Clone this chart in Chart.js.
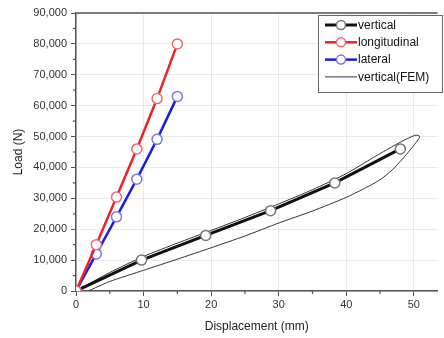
<!DOCTYPE html>
<html>
<head>
<meta charset="utf-8">
<script src="https://cdn.jsdelivr.net/npm/chart.js@4.4.0/dist/chart.umd.min.js"></script>
<style>
  html, body { margin: 0; padding: 0; background: #fff; }
  #wrap { width: 444px; height: 338px; }
</style>
</head>
<body>
<div id="wrap"><canvas id="loadChart"></canvas></div>
<script>
// measured curves: displacement (mm) / load (N)
const verticalX = [0, 9.7, 19.2, 28.8, 38.3, 48];
const verticalY = [0, 10000, 18000, 26000, 35000, 46000];

const longX = [0, 3, 6, 9, 12, 15];
const longY = [0, 15000, 30400, 46000, 62300, 80000];

const latX = [0, 3, 6, 9, 12, 15];
const latY = [0, 12000, 24000, 36200, 49100, 63000];

// FEM loop: loading branch up to the tip, then unloading branch back down
const femX = [0, 5, 10, 15, 20, 25, 30, 35, 40, 44, 47, 49, 50.3,
              50.9, 50.3, 49.4, 48.3, 46.8, 45, 42.5, 40, 35, 30, 25, 20, 15, 10, 5, 1.8];
const femY = [0, 6000, 11200, 15500, 19600, 23800, 28200, 32800, 38000, 43200, 47000, 49300, 50450,
              50000, 48000, 45500, 42700, 39200, 36000, 33000, 30300, 25900, 22000, 17800, 14000, 10300, 6700, 3100, 0];

const xTicks = [0, 10, 20, 30, 40, 50];
const yTicks = [0, 10000, 20000, 30000, 40000, 50000, 60000, 70000, 80000, 90000];

const legendNames = ['vertical', 'longitudinal', 'lateral', 'vertical(FEM)'];

const pts = (xs, ys) => xs.map((x, i) => ({ x: x, y: ys[i] }));

const FONT = '"Liberation Sans", Arial, sans-serif';

// minor ticks, top frame and the boxed legend
const framePlugin = {
    id: 'frame',
    afterDraw(chart) {
        const ctx = chart.ctx;
        const a = chart.chartArea;
        const xs = chart.scales.x, ys = chart.scales.y;
        ctx.save();
        ctx.strokeStyle = '#555';
        ctx.lineWidth = 1.5;
        ctx.beginPath();
        ctx.moveTo(a.left, a.top);
        ctx.lineTo(a.right, a.top);
        ctx.stroke();

        ctx.lineWidth = 1.2;
        ctx.beginPath();
        for (let v = 5; v < xs.max; v += 10) {
            const px = xs.getPixelForValue(v);
            ctx.moveTo(px, a.bottom);
            ctx.lineTo(px, a.bottom + 3);
        }
        for (let v = 5000; v < ys.max; v += 10000) {
            const py = ys.getPixelForValue(v);
            ctx.moveTo(a.left, py);
            ctx.lineTo(a.left - 3, py);
        }
        ctx.stroke();

        // legend
        const bx = 318, by = 15, bw = 124, bh = 77;
        ctx.fillStyle = '#fff';
        ctx.fillRect(bx, by, bw, bh);
        ctx.strokeStyle = '#666';
        ctx.lineWidth = 1;
        ctx.strokeRect(bx + 0.5, by + 0.5, bw, bh);
        chart.data.datasets.forEach((ds, i) => {
            const y = by + 10 + i * 17.3;
            ctx.strokeStyle = ds.borderColor;
            ctx.lineWidth = ds.borderWidth;
            ctx.beginPath();
            ctx.moveTo(325, y);
            ctx.lineTo(357, y);
            ctx.stroke();
            if (ds.pointRadius > 0) {
                ctx.fillStyle = '#fff';
                ctx.strokeStyle = ds.pointBorderColor;
                ctx.lineWidth = 1.5;
                ctx.beginPath();
                ctx.arc(341, y, 4.5, 0, Math.PI * 2);
                ctx.fill();
                ctx.stroke();
            }
            ctx.fillStyle = '#111';
            ctx.font = '12px ' + FONT;
            ctx.textBaseline = 'middle';
            ctx.textAlign = 'left';
            ctx.fillText(legendNames[i], 358, y + 0.5);
        });
        ctx.restore();
    }
};

const ctx = document.getElementById('loadChart').getContext('2d');
new Chart(ctx, {
    type: 'scatter',
    data: {
        datasets: [{
            label: legendNames[0],
            data: pts(verticalX, verticalY),
            showLine: true,
            borderColor: '#111',
            borderWidth: 3,
            pointRadius: 5,
            pointBackgroundColor: '#fff',
            pointBorderColor: '#777',
            pointBorderWidth: 1.5,
            order: 2
        }, {
            label: legendNames[1],
            data: pts(longX, longY),
            showLine: true,
            borderColor: '#e8242a',
            borderWidth: 2.5,
            pointRadius: 5,
            pointBackgroundColor: '#fff',
            pointBorderColor: '#e57070',
            pointBorderWidth: 1.5,
            order: 1
        }, {
            label: legendNames[2],
            data: pts(latX, latY),
            showLine: true,
            borderColor: '#1c1ce0',
            borderWidth: 2.5,
            pointRadius: 5,
            pointBackgroundColor: '#fff',
            pointBorderColor: '#7878e6',
            pointBorderWidth: 1.5,
            order: 1
        }, {
            label: legendNames[3],
            data: pts(femX, femY),
            showLine: true,
            borderColor: '#333',
            borderWidth: 1,
            pointRadius: 0,
            tension: 0.2,
            order: 3
        }]
    },
    options: {
        responsive: true,
        maintainAspectRatio: false,
        animation: false,
        layout: { padding: { left: 7, top: 13, right: 1, bottom: 0 } },
        plugins: {
            legend: { display: false },
            tooltip: { enabled: false }
        },
        scales: {
            x: {
                type: 'linear',
                min: 0,
                max: 53.5,
                afterFit: s => { s.height = 47; },
                afterBuildTicks: s => { s.ticks = xTicks.map(v => ({ value: v })); },
                border: { color: '#555', width: 1.5 },
                grid: { color: 'rgba(0,0,0,0.08)', tickColor: '#555', tickLength: 5 },
                ticks: { color: '#333', font: { family: FONT, size: 11 }, padding: 2, maxRotation: 0 },
                title: { display: true, text: 'Displacement (mm)', color: '#222', font: { family: FONT, size: 12 }, padding: { top: 4, bottom: 4 } }
            },
            y: {
                type: 'linear',
                min: 0,
                max: 90000,
                afterFit: s => { s.width = 69; },
                afterBuildTicks: s => { s.ticks = yTicks.map(v => ({ value: v })); },
                border: { color: '#555', width: 1.5 },
                grid: { color: 'rgba(0,0,0,0.08)', tickColor: '#555', tickLength: 5 },
                ticks: { color: '#333', font: { family: FONT, size: 11 }, padding: 4 },
                title: { display: true, text: 'Load (N)', color: '#222', font: { family: FONT, size: 12 }, padding: { top: 4, bottom: 4 } }
            }
        }
    },
    plugins: [framePlugin]
});
</script>
</body>
</html>
